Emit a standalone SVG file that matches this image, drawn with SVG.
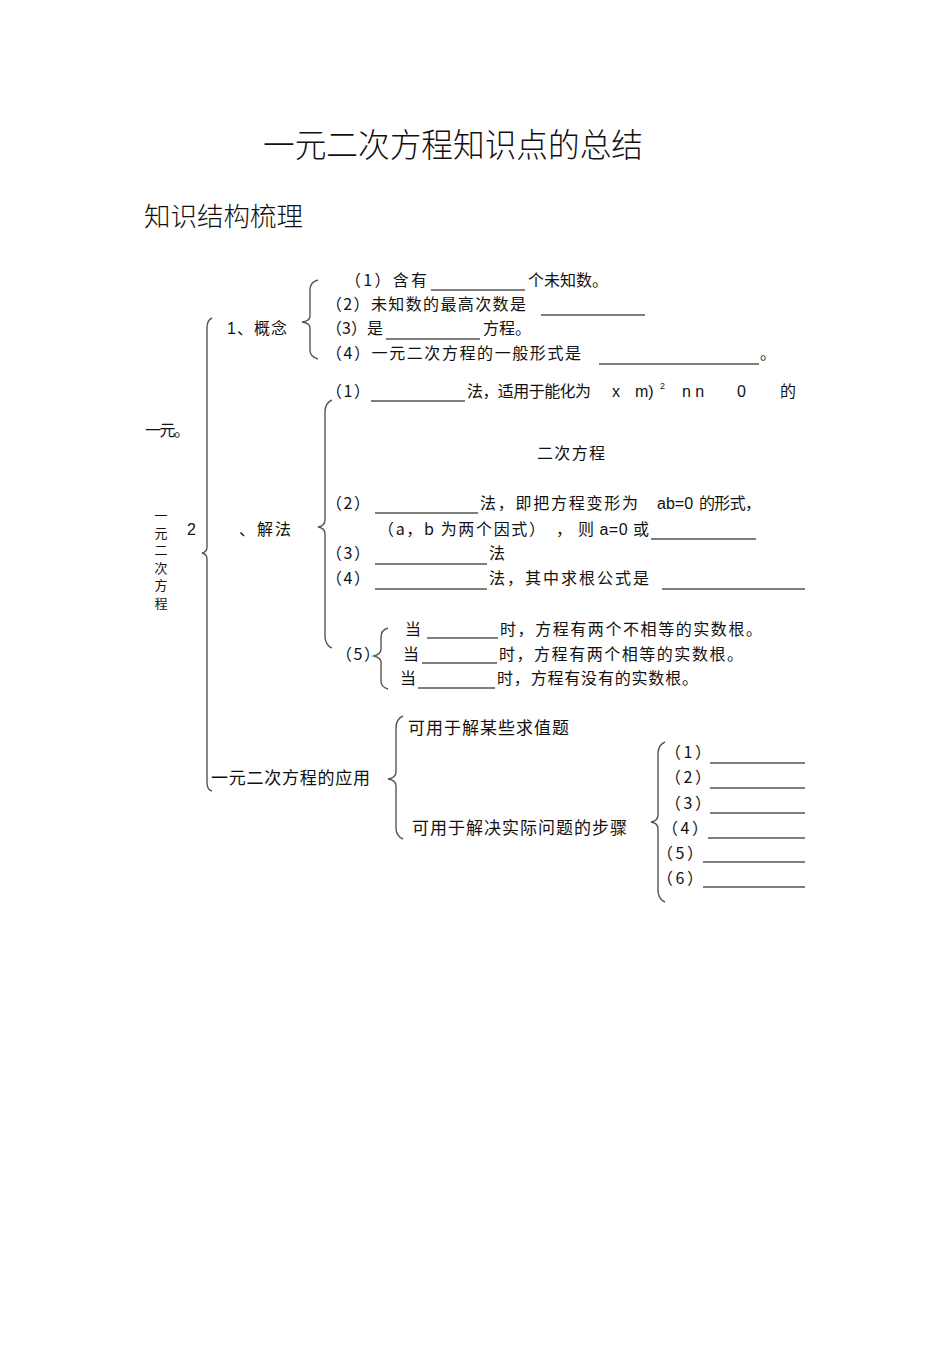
<svg xmlns="http://www.w3.org/2000/svg" width="950" height="1345" viewBox="0 0 950 1345">
<style>
text{font-family:"Liberation Sans","Noto Sans CJK SC",sans-serif;font-size:16px;fill:#111;text-spacing-trim:space-all}
.c{font-family:"Noto Sans CJK SC","Liberation Sans",sans-serif}
.t{font-size:33px;font-family:"Noto Sans CJK SC",sans-serif;font-weight:300}
.h{font-size:26px;font-family:"Noto Sans CJK SC",sans-serif;font-weight:300}
.a{font-size:17px}
.v{font-size:13px;text-anchor:middle}
.u{stroke:#000;stroke-width:1.1}
.b{fill:none;stroke:#555;stroke-width:1.4}
.s{font-size:9px}
</style>
<rect width="950" height="1345" fill="#fff"/>
<g id="title"><text class="t" x="263" y="157" textLength="380" lengthAdjust="spacingAndGlyphs">一元二次方程知识点的总结</text></g>
<g id="subtitle"><text class="h" x="144" y="226" textLength="159" lengthAdjust="spacingAndGlyphs">知识结构梳理</text></g>
<g id="connectors">
<path class="b" d="M212,318 Q207,320 207,328 L207,547 Q207,552 202,553 Q207,554 207,559 L207,782 Q207,790 212,791"/>
<path class="b" d="M318,280 Q310,282 310,290 L310,316 Q310,321 302,322 Q310,323 310,328 L310,350 Q310,357 318,359"/>
<path class="b" d="M332,400 Q325,403 325,412 L325,520 Q325,526 318,527 Q325,528 325,534 L325,636 Q325,645 332,648"/>
<path class="b" d="M388,628 Q381,630 381,637 L381,649 Q381,654 374,656 Q381,658 381,662 L381,681 Q381,687 388,689"/>
<path class="b" d="M403,716 Q396,719 396,728 L396,772 Q396,778 388,779 Q396,780 396,786 L396,828 Q396,836 403,839"/>
<path class="b" d="M665,742 Q658,745 658,754 L658,815 Q658,821 651,822 Q658,823 658,829 L658,890 Q658,899 665,902"/>
</g>
<g id="root">
<text x="145" y="436" textLength="45">一元。</text>
<text x="187" y="535">2</text>
<text class="v" x="161" y="520">一</text>
<text class="v" x="161" y="538">元</text>
<text class="v" x="161" y="555">二</text>
<text class="v" x="161" y="573">次</text>
<text class="v" x="161" y="590">方</text>
<text class="v" x="161" y="608">程</text>
</g>
<g id="concept">
<text x="227" y="334" textLength="60">1、概念</text>
</g>
<g id="concept-items">
<text class="c" x="345" y="286" textLength="82">（1）含有</text><line class="u" x1="431" y1="290" x2="525" y2="290"/><text x="528" y="286" textLength="80">个未知数。</text>
<text class="c" x="326" y="310" textLength="200">（2）未知数的最高次数是</text><line class="u" x1="541" y1="315" x2="645" y2="315"/>
<text class="c" x="326" y="334" textLength="57">（3）是</text><line class="u" x1="386" y1="339" x2="480" y2="339"/><text x="483" y="334" textLength="48">方程。</text>
<text class="c" x="326" y="359" textLength="255">（4）一元二次方程的一般形式是</text><line class="u" x1="599" y1="364" x2="759" y2="364"/><text x="760" y="359">。</text>
</g>
<g id="solution">
<text x="239" y="535" textLength="52">、解法</text>
</g>
<g id="solution-items">
<text class="c" x="326" y="397" textLength="44">（1）</text><line class="u" x1="371" y1="401" x2="465" y2="401"/><text x="467" y="397" textLength="124">法，适用于能化为</text>
<text x="612" y="397">x</text><text x="635" y="397">m)</text><text class="s" x="660" y="389">2</text><text x="682" y="397">n n</text><text x="737" y="397">0</text><text x="780" y="397">的</text>
<text x="537" y="459" textLength="68">二次方程</text>
<text class="c" x="326" y="509" textLength="44">（2）</text><line class="u" x1="375" y1="513" x2="478" y2="513"/><text x="480" y="509" textLength="158">法，即把方程变形为</text><text x="657" y="509">ab=0</text><text x="699" y="509" textLength="62">的形式，</text>
<text class="c" x="378" y="535" textLength="167">（a，b 为两个因式）</text><text x="556" y="535">，</text><text x="578" y="535" textLength="71">则 a=0 或</text><line class="u" x1="651" y1="539" x2="756" y2="539"/>
<text class="c" x="326" y="559" textLength="44">（3）</text><line class="u" x1="375" y1="564" x2="487" y2="564"/><text x="489" y="559">法</text>
<text class="c" x="326" y="584" textLength="44">（4）</text><line class="u" x1="375" y1="589" x2="487" y2="589"/><text x="489" y="584" textLength="160">法，其中求根公式是</text><line class="u" x1="662" y1="589" x2="805" y2="589"/>
</g>
<g id="discriminant">
<text class="c" x="336" y="660" textLength="44">（5）</text>
<text x="405" y="635">当</text><line class="u" x1="427" y1="638" x2="498" y2="638"/><text x="500" y="635" textLength="262">时，方程有两个不相等的实数根。</text>
<text x="403" y="660">当</text><line class="u" x1="422" y1="663" x2="497" y2="663"/><text x="499" y="660" textLength="244">时，方程有两个相等的实数根。</text>
<text x="400" y="684">当</text><line class="u" x1="418" y1="688" x2="495" y2="688"/><text x="497" y="684" textLength="201">时，方程有没有的实数根。</text>
</g>
<g id="application">
<text class="a" x="211" y="784" textLength="159">一元二次方程的应用</text>
</g>
<g id="application-items">
<text class="a" x="408" y="734" textLength="161">可用于解某些求值题</text>
<text class="a" x="412" y="834" textLength="215">可用于解决实际问题的步骤</text>
</g>
<g id="steps">
<text class="c" x="665" y="758" textLength="46">（1）</text><line class="u" x1="710" y1="763" x2="805" y2="763"/>
<text class="c" x="665" y="783" textLength="46">（2）</text><line class="u" x1="710" y1="788" x2="805" y2="788"/>
<text class="c" x="665" y="809" textLength="46">（3）</text><line class="u" x1="710" y1="813" x2="805" y2="813"/>
<text class="c" x="662" y="834" textLength="46">（4）</text><line class="u" x1="708" y1="838" x2="805" y2="838"/>
<text class="c" x="657" y="859" textLength="46">（5）</text><line class="u" x1="703" y1="862" x2="805" y2="862"/>
<text class="c" x="657" y="884" textLength="46">（6）</text><line class="u" x1="703" y1="887" x2="805" y2="887"/>
</g>
</svg>
